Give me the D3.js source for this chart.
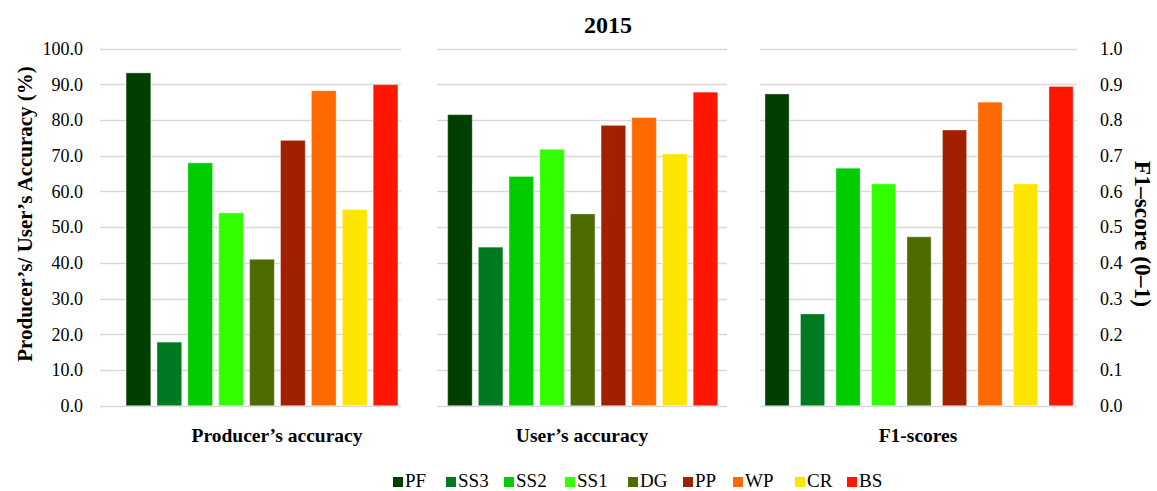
<!DOCTYPE html>
<html>
<head>
<meta charset="utf-8">
<script src="https://cdn.jsdelivr.net/npm/d3@7"></script>
<style>
  body { margin: 0; background: #fff; }
  text { font-family: "Liberation Serif", "Times New Roman", serif; fill: #000; }
  .grid line { stroke: #d9d9d9; stroke-width: 1.3; }
  .panel-label { font-size: 19.5px; font-weight: bold; }
</style>
</head>
<body>
<svg width="1157" height="491"></svg>
<script>
// classes and colours
let classes = ["PF", "SS3", "SS2", "SS1", "DG", "PP", "WP", "CR", "BS"]
let classColors = ["#003f00", "#007a20", "#00cc00", "#33ff00", "#4d6b00", "#a02000", "#ff6a00", "#ffe500", "#ff1500"]

// values
let producerAcc = [93.2, 17.8, 68.0, 54.0, 41.0, 74.3, 88.2, 54.9, 89.9]
let userAcc = [81.5, 44.4, 64.2, 71.8, 53.7, 78.5, 80.7, 70.5, 87.8]
let f1Scores = [0.873, 0.257, 0.665, 0.621, 0.473, 0.772, 0.850, 0.621, 0.894]

let panelTitles = ["Producer\u2019s accuracy", "User\u2019s accuracy", "F1-scores"]
let leftTicks = [0, 10, 20, 30, 40, 50, 60, 70, 80, 90, 100]
let rightTicks = [0, 0.1, 0.2, 0.3, 0.4, 0.5, 0.6, 0.7, 0.8, 0.9, 1.0]

let svg = d3.select("svg")
let y0 = 405.7, y1 = 48.6
let serif = "'Liberation Serif', 'Times New Roman', serif"

let yLeft = d3.scaleLinear().domain([0, 100]).range([y0, y1])
let yRight = d3.scaleLinear().domain([0, 1]).range([y0, y1])

// each panel is a separate little chart
let panels = [
    { values: producerAcc, y: yLeft, grid: [100, 401], range: [123, 401], pin: 0.2, pout: 0.1, labelX: 277 },
    { values: userAcc, y: yLeft, grid: [437, 727], range: [444.6, 720.8], pin: 0.2, pout: 0.1, labelX: 582 },
    { values: f1Scores, y: yRight, grid: [760, 1077], range: [759.3, 1078.8], pin: 0.32, pout: 0.16, labelX: 918 },
]

panels.forEach((p, pi) => {
    let g = svg.append("g")
    // gridlines
    g.append("g").attr("class", "grid")
        .selectAll("line").data(p.y.ticks(10)).enter().append("line")
        .attr("x1", p.grid[0]).attr("x2", p.grid[1])
        .attr("y1", d => Math.round(p.y(d)) + 0.5)
        .attr("y2", d => Math.round(p.y(d)) + 0.5)

    let x = d3.scaleBand()
        .domain(classes)
        .range(p.range)
        .paddingInner(p.pin)
        .paddingOuter(p.pout)

    g.selectAll("rect").data(p.values).enter().append("rect")
        .attr("x", (d, i) => x(classes[i]))
        .attr("y", d => p.y(d))
        .attr("width", x.bandwidth())
        .attr("height", d => y0 - p.y(d))
        .attr("fill", (d, i) => classColors[i])
        .attr("stroke", "#ffffff")
        .attr("stroke-opacity", 0.35)
        .attr("stroke-width", 1)

    g.append("text")
        .attr("class", "panel-label")
        .attr("x", p.labelX)
        .attr("y", 442)
        .attr("text-anchor", "middle")
        .text(panelTitles[pi])
})

// left axis
let leftAxis = d3.axisLeft(yLeft).tickValues(leftTicks).tickSize(0).tickPadding(0).tickFormat(d3.format(".1f"))
svg.append("g").attr("transform", "translate(83,0)").call(leftAxis)
    .attr("font-family", serif).attr("font-size", 18)
    .call(g => g.select(".domain").remove())

// right axis
let rightAxis = d3.axisRight(yRight).tickValues(rightTicks).tickSize(0).tickPadding(0).tickFormat(d3.format(".1f"))
svg.append("g").attr("transform", "translate(1100,0)").call(rightAxis)
    .attr("font-family", serif).attr("font-size", 18)
    .call(g => g.select(".domain").remove())

// title
svg.append("text")
    .attr("x", 608).attr("y", 33)
    .attr("text-anchor", "middle")
    .attr("font-size", 24).attr("font-weight", "bold")
    .text("2015")

// axis titles
svg.append("text")
    .attr("transform", "translate(32,214) rotate(-90)")
    .attr("text-anchor", "middle")
    .attr("font-size", 21).attr("font-weight", "bold")
    .text("Producer\u2019s/ User\u2019s Accuracy (%)")

svg.append("text")
    .attr("transform", "translate(1135,234) rotate(90)")
    .attr("text-anchor", "middle")
    .attr("font-size", 23.5).attr("font-weight", "bold")
    .text("F1\u2013score (0\u20131)")

// legend
let legendX = [393, 446, 504, 565, 628, 683, 733, 795, 847]
let legend = svg.append("g").selectAll("g").data(classes).enter().append("g")
    .attr("transform", (d, i) => `translate(${legendX[i]},477)`)
legend.append("rect")
    .attr("width", 10).attr("height", 10)
    .attr("fill", (d, i) => classColors[i])
legend.append("text")
    .attr("x", 12).attr("y", 10)
    .attr("font-size", 19)
    .text(d => d)
</script>
</body>
</html>
